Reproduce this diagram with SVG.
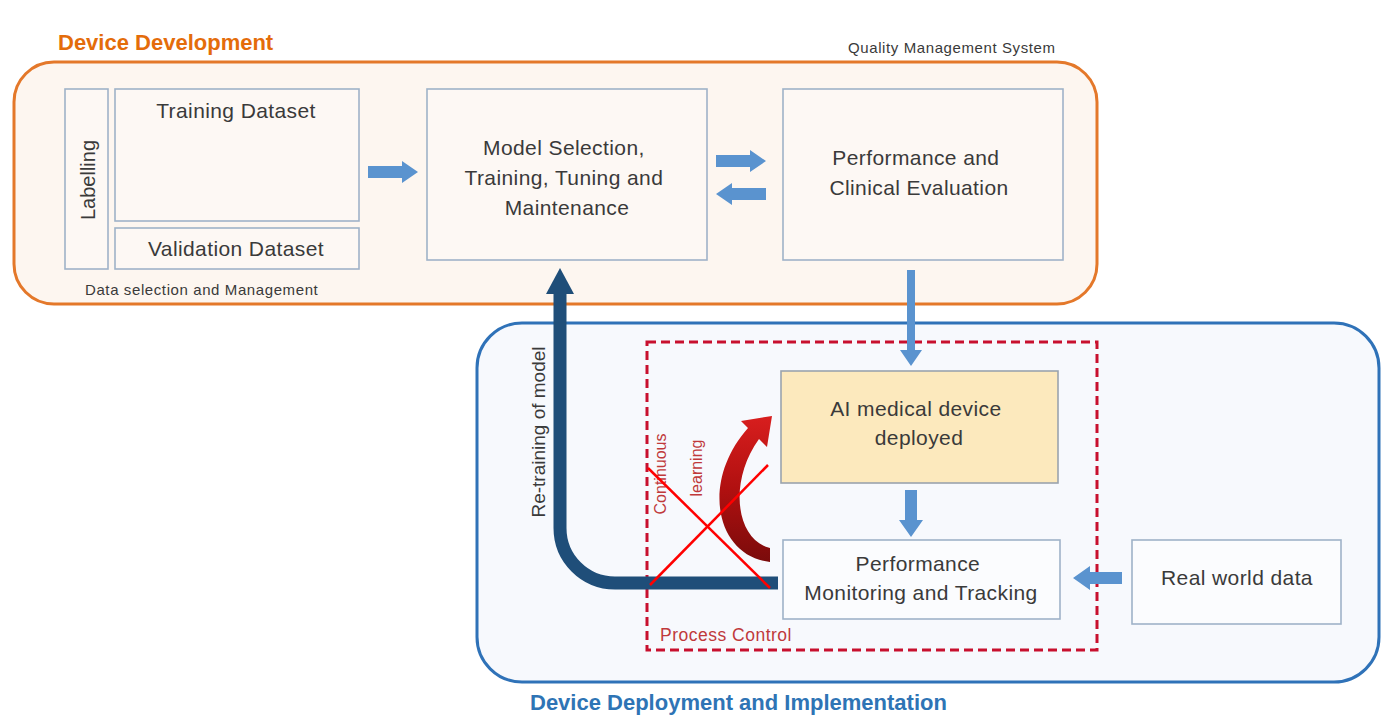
<svg xmlns="http://www.w3.org/2000/svg" width="1381" height="715" viewBox="0 0 1381 715">
  <defs>
    <style>
      .lbl { font-family: "Liberation Sans", Arial, sans-serif; fill: #3a3a3a; }
      .big { font-size: 21px; letter-spacing: 0.4px; }
      .small { font-size: 15px; letter-spacing: 0.6px; }
      .box { fill: #fdf8f4; stroke: #9fb2c8; stroke-width: 1.6; }
      .blk { fill: #5a93cf; }
      .title { font-family: "Liberation Sans", Arial, sans-serif; font-weight: bold; font-size: 22px; }
      .red { font-family: "Liberation Sans", Arial, sans-serif; fill: #c0393b; }
    </style>
    <linearGradient id="redArc" x1="0" y1="1" x2="0" y2="0">
      <stop offset="0" stop-color="#7a0b0b"/>
      <stop offset="0.5" stop-color="#b01010"/>
      <stop offset="1" stop-color="#d81e1e"/>
    </linearGradient>
  </defs>

  <rect width="1381" height="715" fill="#ffffff"/>

  <!-- Device development stage -->
  <g id="device-development">
    <rect x="14" y="62" width="1083" height="242" rx="40" fill="#fdf6f0" stroke="#e4782a" stroke-width="3"/>
    <text class="title" x="58" y="50" fill="#e46c0a">Device Development</text>
    <text class="lbl small" x="848" y="53">Quality Management System</text>
    <text class="lbl small" x="85" y="295">Data selection and Management</text>
  </g>

  <g id="labelling">
    <rect class="box" x="65" y="89" width="43" height="180"/>
    <text class="lbl" font-size="20" text-anchor="middle" transform="translate(95 180) rotate(-90)">Labelling</text>
  </g>
  <g id="training-dataset">
    <rect class="box" x="115" y="89" width="244" height="132"/>
    <text class="lbl big" x="236" y="118" text-anchor="middle">Training Dataset</text>
  </g>
  <g id="validation-dataset">
    <rect class="box" x="115" y="228" width="244" height="41"/>
    <text class="lbl big" x="236" y="256" text-anchor="middle">Validation Dataset</text>
  </g>
  <g id="model-selection">
    <rect class="box" x="427" y="89" width="280" height="171"/>
    <text class="lbl big" text-anchor="middle">
      <tspan x="567" y="155">Model Selection,</tspan>
      <tspan x="567" y="185">Training, Tuning and</tspan>
      <tspan x="567" y="215">Maintenance</tspan>
    </text>
  </g>
  <g id="clinical-evaluation">
    <rect class="box" x="783" y="89" width="280" height="171"/>
    <text class="lbl big" text-anchor="middle">
      <tspan x="919" y="165">Performance and</tspan>
      <tspan x="919" y="195">Clinical Evaluation</tspan>
    </text>
  </g>

  <!-- Deployment stage -->
  <g id="device-deployment">
    <rect x="477" y="323" width="902" height="359" rx="45" fill="#f7f9fd" stroke="#2f72b8" stroke-width="3"/>
    <text class="title" x="530" y="710" fill="#2e74b5">Device Deployment and Implementation</text>
  </g>
  <g id="process-control">
    <rect x="647" y="342" width="450" height="308" fill="none" stroke="#c8102e" stroke-width="3" stroke-dasharray="9 5"/>
    <text class="red" x="660" y="641" font-size="17.5" letter-spacing="0.5">Process Control</text>
  </g>
  <g id="ai-device">
    <rect x="781" y="371" width="277" height="112" fill="#fce9bd" stroke="#9aa3ad" stroke-width="1.6"/>
    <text class="lbl big" text-anchor="middle">
      <tspan x="919" y="416">AI medical device</tspan>
      <tspan x="919" y="445">deployed</tspan>
    </text>
  </g>
  <g id="performance-monitoring">
    <rect x="783" y="540" width="277" height="79" fill="#fbfcfe" stroke="#9fb2c8" stroke-width="1.6"/>
    <text class="lbl big" text-anchor="middle">
      <tspan x="921" y="571">Performance</tspan>
      <tspan x="921" y="600">Monitoring and Tracking</tspan>
    </text>
  </g>
  <g id="real-world-data">
    <rect x="1132" y="540" width="209" height="84" fill="#fbfcfe" stroke="#9fb2c8" stroke-width="1.6"/>
    <text class="lbl big" x="1237" y="585" text-anchor="middle">Real world data</text>
  </g>

  <!-- Connectors -->
  <g id="connectors">
    <!-- datasets to model selection -->
    <polygon class="blk" points="368,166 402,166 402,161 418,172 402,183 402,178 368,178"/>
    <!-- model selection <-> evaluation -->
    <polygon class="blk" points="716,155 750,155 750,150 766,161 750,172 750,167 716,167"/>
    <polygon class="blk" points="766,188 732,188 732,183 716,194 732,205 732,200 766,200"/>
    <!-- evaluation down to deployed device -->
    <polygon class="blk" points="907,270 915,270 915,350 922,350 911,366 900,350 907,350"/>
    <!-- deployed device to monitoring -->
    <polygon class="blk" points="905,490 917,490 917,520 923,520 911,537 899,520 905,520"/>
    <!-- real world data to monitoring -->
    <polygon class="blk" points="1122,572 1090,572 1090,566 1073,578 1090,590 1090,584 1122,584"/>

    <!-- re-training loop back to the model -->
    <path d="M 778 583 H 615 A 55 55 0 0 1 560 528 V 292" fill="none" stroke="#1f4e79" stroke-width="13"/>
    <polygon points="560,268 574,294 546,294" fill="#1f4e79"/>
    <text class="lbl" font-size="19" text-anchor="middle" transform="translate(545 432) rotate(-90)">Re-training of model</text>

    <!-- continuous learning loop -->
    <path d="M 770 562 C 716 556 700 482 748 428 L 741 421 L 772 416 L 767 447 L 759 439 C 728 482 736 540 770 548 Z" fill="url(#redArc)"/>
    <text class="red" font-size="16" text-anchor="middle" transform="translate(666 474) rotate(-90)">Continuous</text>
    <text class="red" font-size="16" text-anchor="middle" transform="translate(702 468) rotate(-90)">learning</text>
    <line x1="648" y1="468" x2="770" y2="588" stroke="#ff0000" stroke-width="2.5"/>
    <line x1="768" y1="465" x2="650" y2="585" stroke="#ff0000" stroke-width="2.5"/>
  </g>
</svg>
